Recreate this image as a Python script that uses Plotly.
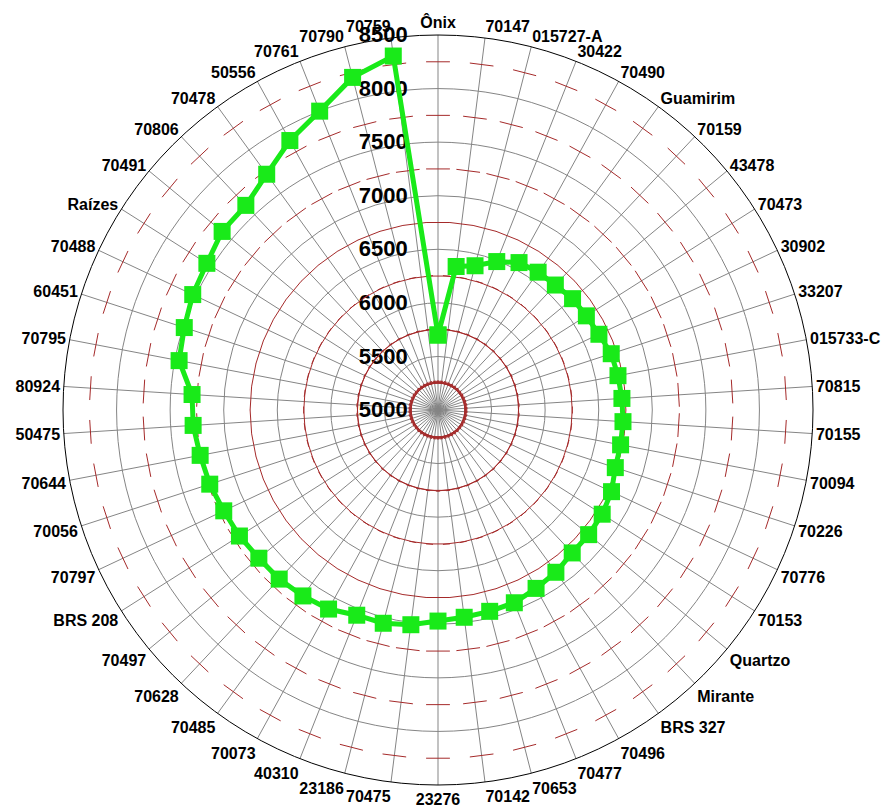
import plotly.graph_objects as go

# Genotype names around the chart, clockwise from the top
categories = [
    "Ônix", "70147", "015727-A", "30422", "70490", "Guamirim", "70159", "43478",
    "70473", "30902", "33207", "015733-C", "70815", "70155", "70094", "70226",
    "70776", "70153", "Quartzo", "Mirante", "BRS 327", "70496", "70477", "70653",
    "70142", "23276", "70475", "23186", "40310", "70073", "70485", "70628",
    "70497", "BRS 208", "70797", "70056", "70644", "50475", "80924", "70795",
    "60451", "70488", "Raízes", "70491", "70806", "70478", "50556", "70761",
    "70790", "70759",
]

# Value per genotype
yield_values = [
    5700, 6350, 6390, 6490, 6570, 6590, 6600, 6630,
    6640, 6660, 6700, 6710, 6720, 6730, 6735, 6740,
    6790, 6815, 6825, 6830, 6872, 6900, 6935, 6940,
    6950, 6970, 7020, 7055, 7060, 7120, 7145, 7165,
    7170, 7195, 7210, 7240, 7260, 7290, 7300, 7460,
    7490, 7530, 7555, 7615, 7620, 7720, 7870, 8000,
    8205, 8330,
]

radial_ticks = [5000, 5500, 6000, 6500, 7000, 7500, 8000, 8500]
minor_marks = [5250, 5750, 6250, 6750, 7250, 7750, 8250]

step = 360 / len(categories)
angles = [i * step for i in range(len(categories))]

fig = go.Figure()

# short red tick marks across every spoke at the minor values
mark_r, mark_t = [], []
for v in minor_marks:
    for a in angles:
        mark_r.append(v)
        mark_t.append(a)

fig.add_trace(go.Scatterpolar(
    r=mark_r, theta=mark_t, mode="markers",
    marker=dict(symbol="line-ew", size=17, angle=mark_t,
                color="#a52a2a", line=dict(color="#a52a2a", width=1)),
    hoverinfo="skip", showlegend=False,
))

# the series, closed back to the first genotype
fig.add_trace(go.Scatterpolar(
    r=yield_values + [yield_values[0]],
    theta=angles + [angles[0]],
    mode="lines+markers",
    line=dict(color="#19ea19", width=5),
    marker=dict(symbol="square", size=17, color="#19ea19"),
    showlegend=False,
))

W, H = 890, 807
cx, cy, rad = 438, 410, 375

fig.update_layout(
    width=W, height=H,
    margin=dict(l=0, r=0, t=0, b=0),
    paper_bgcolor="white",
    polar=dict(
        domain=dict(x=[(cx - rad) / W, (cx + rad) / W],
                    y=[1 - (cy + rad) / H, 1 - (cy - rad) / H]),
        bgcolor="white",
        gridshape="circular",
        angularaxis=dict(
            rotation=90, direction="clockwise",
            tickmode="array", tickvals=angles, ticktext=categories,
            showgrid=True, gridcolor="#858585", gridwidth=1,
            showline=True, linecolor="black", linewidth=1,
            ticks="", layer="below traces",
            tickfont=dict(family="Arial, Liberation Sans", size=16,
                          color="black", weight="bold"),
        ),
        radialaxis=dict(
            range=[5000, 8500], tickmode="array", tickvals=radial_ticks,
            angle=90, side="counterclockwise", tickangle=90,
            showline=False, showgrid=True, gridcolor="#858585", gridwidth=1,
            ticks="outside", ticklen=22, tickcolor="rgba(0,0,0,0)",
            layer="below traces",
            tickfont=dict(family="Arial, Liberation Sans", size=22,
                          color="black", weight="bold"),
        ),
    ),
)

fig.write_html("out.html")
